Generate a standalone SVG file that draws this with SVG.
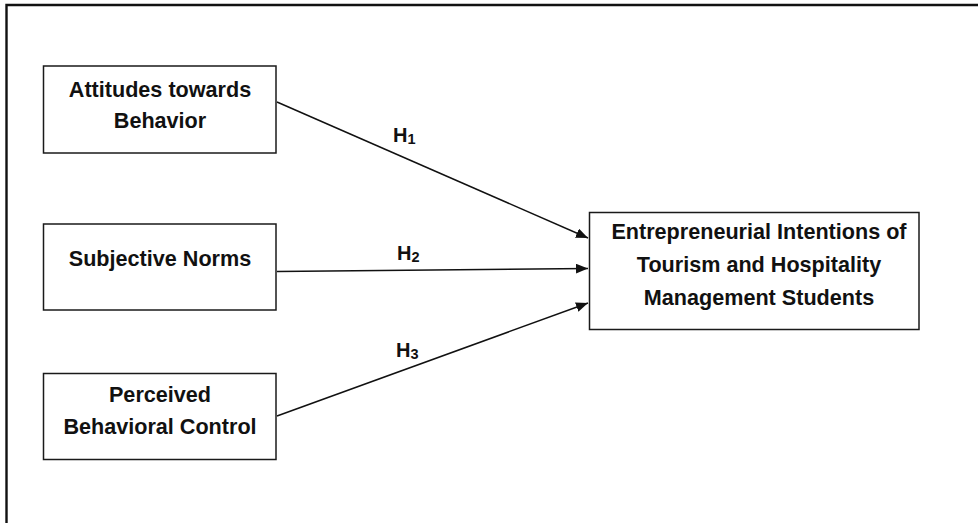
<svg xmlns="http://www.w3.org/2000/svg" width="978" height="523" viewBox="0 0 978 523">
  <style>
    .box { fill: #ffffff; stroke: #1a1a1a; stroke-width: 1.5; }
    .lbl { font-family: "Liberation Sans", Arial, sans-serif; font-weight: bold; font-size: 21.6px; fill: #111111; text-anchor: middle; }
    .h { font-family: "Liberation Sans", Arial, sans-serif; font-weight: bold; font-size: 20px; fill: #111111; }
    .sub { font-size: 14.5px; }
    .conn { stroke: #111111; stroke-width: 1.5; fill: none; marker-end: url(#arrow); }
  </style>
  <defs>
    <marker id="arrow" markerUnits="userSpaceOnUse" markerWidth="13" markerHeight="11" refX="12" refY="5" orient="auto">
      <path d="M0,0 L12,5 L0,10 z" fill="#111111"/>
    </marker>
  </defs>
  <rect width="978" height="523" fill="#ffffff"/>
  <polyline points="6.5,523 6.5,5 978,5" fill="none" stroke="#111111" stroke-width="2.4"/>

  <g id="connectors">
    <line class="conn" x1="277" y1="102" x2="588" y2="238"/>
    <line class="conn" x1="277" y1="271.5" x2="588" y2="268.5"/>
    <line class="conn" x1="277" y1="416" x2="588" y2="303"/>
    <text class="h" x="393" y="142">H<tspan class="sub" dy="2">1</tspan></text>
    <text class="h" x="397" y="260">H<tspan class="sub" dy="2">2</tspan></text>
    <text class="h" x="396" y="357">H<tspan class="sub" dy="2">3</tspan></text>
  </g>

  <g id="attitudes">
    <rect class="box" x="43.5" y="66" width="232.5" height="87"/>
    <text class="lbl" x="160" y="97">Attitudes towards</text>
    <text class="lbl" x="160" y="128">Behavior</text>
  </g>

  <g id="subjective-norms">
    <rect class="box" x="43.5" y="224" width="232.5" height="86"/>
    <text class="lbl" x="160" y="266">Subjective Norms</text>
  </g>

  <g id="perceived-control">
    <rect class="box" x="43.5" y="373.5" width="232.5" height="86"/>
    <text class="lbl" x="160" y="402">Perceived</text>
    <text class="lbl" x="160" y="434">Behavioral Control</text>
  </g>

  <g id="intentions">
    <rect class="box" x="589.5" y="212.5" width="329.5" height="117"/>
    <text class="lbl" x="759" y="239">Entrepreneurial Intentions of</text>
    <text class="lbl" x="759" y="272">Tourism and Hospitality</text>
    <text class="lbl" x="759" y="305">Management Students</text>
  </g>
</svg>
